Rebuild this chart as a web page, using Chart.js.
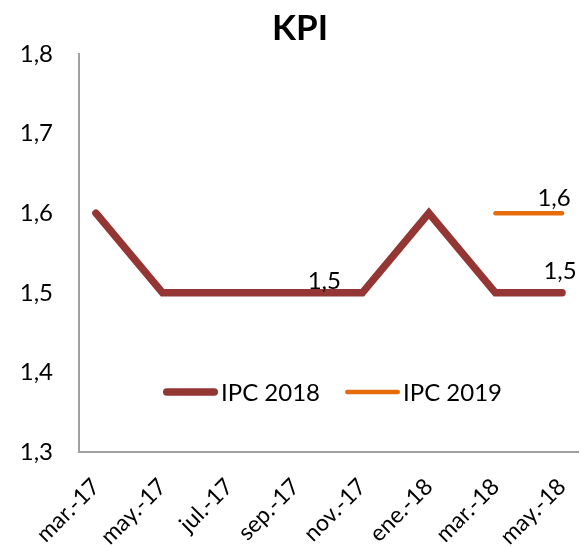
<!DOCTYPE html>
<html>
<head>
<meta charset="utf-8">
<script src="https://cdn.jsdelivr.net/npm/chart.js@4"></script>
<style>
  html, body { margin: 0; padding: 0; background: #fff; }
  #wrap { width: 582px; height: 547px; }
</style>
</head>
<body>
<div id="wrap"><canvas id="kpi"></canvas></div>
<script>
const months = ["mar.-17", "may.-17", "jul.-17", "sep.-17", "nov.-17", "ene.-18", "mar.-18", "may.-18"];
const ipc2018 = [1.6, 1.5, 1.5, 1.5, 1.5, 1.6, 1.5, 1.5];
const ipc2019 = [null, null, null, null, null, null, 1.6, 1.6];
const yTicks = [1.3, 1.4, 1.5, 1.6, 1.7, 1.8];
// indices that carry a value label
const labeled2018 = [4, 7];
const labeled2019 = [7];

const FONT = "Lato";
const RED = "#943634";
const ORANGE = "#E46C0A";
const AXIS = "#a0a0a0";

const fmt = (v) => v.toFixed(1).replace(".", ",");
const toPoints = (arr) => arr.map((v, i) => ({ x: i, y: v }));

// legend drawn inside the plot area, centred above the x axis
const innerLegend = {
    id: "innerLegend",
    afterDatasetsDraw(chart) {
        const { ctx, chartArea } = chart;
        const lineLen = 55, gap = 3, spacing = 25;
        ctx.save();
        ctx.font = `24px ${FONT}`;
        ctx.textBaseline = "middle";
        const items = chart.data.datasets.map((ds) => ({ ds, w: lineLen + gap + ctx.measureText(ds.label).width }));
        const total = items.reduce((s, it) => s + it.w, 0) + spacing * (items.length - 1);
        let x = (chartArea.left + chartArea.right) / 2 - total / 2 + 4;
        const y = chartArea.bottom - 60;
        items.forEach(({ ds, w }) => {
            ctx.strokeStyle = ds.borderColor;
            ctx.lineWidth = ds.borderWidth;
            ctx.lineCap = "round";
            ctx.beginPath();
            ctx.moveTo(x + ds.borderWidth / 2, y);
            ctx.lineTo(x + lineLen - ds.borderWidth / 2, y);
            ctx.stroke();
            ctx.fillStyle = "#000";
            ctx.fillText(ds.label, x + lineLen + gap, y + 1);
            x += w + spacing;
        });
        ctx.restore();
    },
};

// value labels, with small per-label nudges
const valueLabels = {
    id: "valueLabels",
    afterDatasetsDraw(chart, args, opts) {
        const { ctx } = chart;
        ctx.save();
        ctx.font = `24px ${FONT}`;
        ctx.fillStyle = "#000";
        ctx.textAlign = "center";
        ctx.textBaseline = "alphabetic";
        opts.items.forEach(({ ds, idx, dx, dy }) => {
            const pt = chart.getDatasetMeta(ds).data[idx];
            const v = chart.data.datasets[ds].data[idx].y;
            ctx.fillText(fmt(v), pt.x + dx, pt.y + dy);
        });
        ctx.restore();
    },
};

const nudges = { "0-4": [-38, -4], "0-7": [-2, -14], "1-7": [-8, -7] };
const labelItems = [
    ...labeled2018.map((idx) => ({ ds: 0, idx })),
    ...labeled2019.map((idx) => ({ ds: 1, idx })),
].map((it) => {
    const [dx, dy] = nudges[`${it.ds}-${it.idx}`] || [0, -10];
    return { ...it, dx, dy };
});

new Chart(document.getElementById("kpi"), {
    type: "line",
    data: {
        datasets: [
            { label: "IPC 2018", data: toPoints(ipc2018), borderColor: RED, borderWidth: 7.5, tension: 0, pointRadius: 0, borderCapStyle: "round", borderJoinStyle: "miter" },
            { label: "IPC 2019", data: toPoints(ipc2019), borderColor: ORANGE, borderWidth: 4.5, tension: 0, pointRadius: 0, borderCapStyle: "round", spanGaps: false },
        ],
    },
    options: {
        responsive: true,
        maintainAspectRatio: false,
        animation: false,
        events: [],
        layout: { padding: { left: 22, right: 4, top: 0, bottom: 0 } },
        plugins: {
            legend: { display: false },
            tooltip: { enabled: false },
            title: {
                display: true, text: "KPI", color: "#000",
                font: { family: FONT, size: 35, weight: "bold" },
                padding: { top: 8, bottom: 4 },
            },
            valueLabels: { items: labelItems },
        },
        scales: {
            x: {
                type: "linear",
                min: -0.255, max: 7.24,
                afterFit: (scale) => { scale.height = 95; scale.paddingRight = 0; },
                grid: { display: false },
                border: { display: true, color: AXIS, width: 2 },
                ticks: {
                    stepSize: 1, includeBounds: false, autoSkip: false,
                    maxRotation: 45, minRotation: 45, padding: 13,
                    color: "#000", font: { family: FONT, size: 23 },
                    callback: (v) => (Number.isInteger(v) && months[v]) ? months[v] : "",
                },
            },
            y: {
                min: 1.3, max: 1.8,
                afterFit: (scale) => { scale.width = 57; },
                grid: { display: false },
                border: { display: true, color: AXIS, width: 2 },
                afterBuildTicks: (scale) => { scale.ticks = yTicks.map((v) => ({ value: v })); },
                ticks: {
                    padding: 18, color: "#000", font: { family: FONT, size: 24 },
                    callback: (v) => fmt(v),
                },
            },
        },
    },
    plugins: [innerLegend, valueLabels],
});
</script>
</body>
</html>
